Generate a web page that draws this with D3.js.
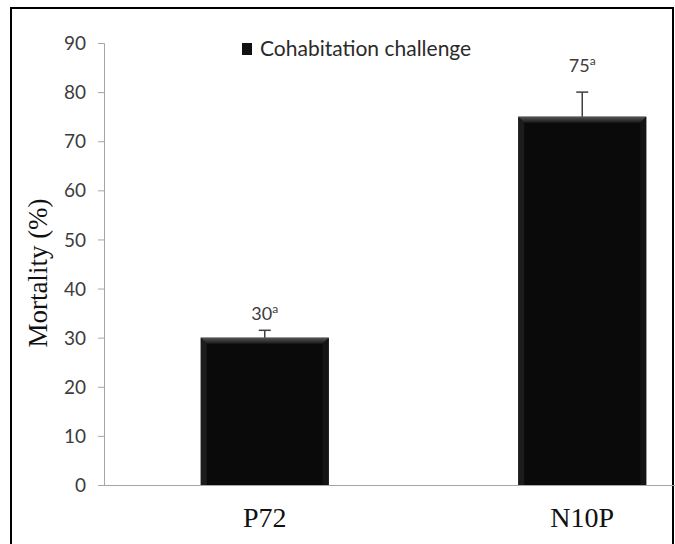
<!DOCTYPE html>
<html><head><meta charset="utf-8">
<script src="https://cdn.jsdelivr.net/npm/d3@7/dist/d3.min.js"></script>
<style>body{margin:0;background:#fff}svg{display:block}</style>
</head><body>
<script>
const categories = ["P72", "N10P"];
const values = [30, 75];
const errors = [1.5, 5];
const labels = ["30", "75"];
const superscripts = ["a", "a"];
const yTicks = [0, 10, 20, 30, 40, 50, 60, 70, 80, 90];
const seriesName = "Cohabitation challenge";

const W = 675, H = 544;
const svg = d3.select("body").append("svg").attr("width", W).attr("height", H);
svg.append("rect").attr("width", W).attr("height", H).attr("fill", "#fff");

// frame
svg.append("path").attr("d", `M11,${H+5} L11,8 L673,8 L673,${H+5}`)
  .attr("fill", "none").attr("stroke", "#000").attr("stroke-width", 2);

const AX = 104;
const y = d3.scaleLinear().domain([0, 90]).range([485, 43]);
const x = d3.scaleBand().domain(categories).range([106, 741]).paddingInner(0.597).paddingOuter(0.2985);

const defs = svg.append("defs");
const g1 = defs.append("linearGradient").attr("id", "bev").attr("x1", 0).attr("y1", 0).attr("x2", 0).attr("y2", 1);
g1.append("stop").attr("offset", 0).attr("stop-color", "#555");
g1.append("stop").attr("offset", 1).attr("stop-color", "#1a1a1a");

const sans = "Lato, 'Open Sans', sans-serif";
const serif = "'Liberation Serif', 'Times New Roman', serif";

// axes
const yAxis = d3.axisLeft(y).tickValues(yTicks).tickSize(6).tickPadding(12);
const ga = svg.append("g").attr("transform", `translate(${AX},0)`).call(yAxis);
ga.select(".domain").attr("stroke", "#a6a6a6").attr("d", "M-6,43.5H0.5V485.5");
ga.selectAll(".tick line").attr("stroke", "#a6a6a6");
ga.selectAll(".tick text").attr("fill", "#3c3c3c").attr("font-family", sans)
  .attr("font-size", 19).attr("dy", "0.35em");

svg.append("line").attr("x1", AX - 6).attr("x2", 675).attr("y1", y(0) + 0.5).attr("y2", y(0) + 0.5)
  .attr("stroke", "#a6a6a6");

// bars
const bars = svg.append("g");
categories.forEach((c, i) => {
  const x0 = x(c), bw = x.bandwidth(), yt = y(values[i]);
  bars.append("rect").attr("x", x0).attr("y", yt).attr("width", bw).attr("height", y(0) - yt)
    .attr("fill", "#0a0a0a");
  bars.append("path").attr("d", `M${x0},${yt} L${x0 + bw},${yt} L${x0 + bw - 6},${yt + 6} L${x0 + 6},${yt + 6} Z`)
    .attr("fill", "url(#bev)");
  bars.append("path").attr("d", `M${x0},${yt} L${x0 + 6},${yt + 6} L${x0 + 6},${y(0)} L${x0},${y(0)} Z`)
    .attr("fill", "#1c1c1c");
  bars.append("path").attr("d", `M${x0 + bw},${yt} L${x0 + bw - 6},${yt + 6} L${x0 + bw - 6},${y(0)} L${x0 + bw},${y(0)} Z`)
    .attr("fill", "#141414");
  // error bar
  const cx = x0 + bw / 2;
  const ye = y(values[i] + errors[i]);
  bars.append("line").attr("x1", cx).attr("x2", cx).attr("y1", yt).attr("y2", ye)
    .attr("stroke", "#404040").attr("stroke-width", 1.5);
  bars.append("line").attr("x1", cx - 6).attr("x2", cx + 6).attr("y1", ye).attr("y2", ye)
    .attr("stroke", "#404040").attr("stroke-width", 1.5);
  // value label
  const t = svg.append("text").attr("x", cx).attr("y", y(values[i] * 1.12))
    .attr("text-anchor", "middle").attr("fill", "#3c3c3c")
    .attr("font-family", sans).attr("font-size", 18);
  t.append("tspan").text(labels[i]);
  t.append("tspan").attr("dy", -7).attr("font-size", 12).text(superscripts[i]);
  // category label
  svg.append("text").attr("x", cx).attr("y", 527).attr("text-anchor", "middle")
    .attr("font-family", serif).attr("font-size", 28)
    .attr("fill", "#111").text(c);
});

// legend
svg.append("rect").attr("x", 242).attr("y", 43).attr("width", 10).attr("height", 12).attr("fill", "#111");
svg.append("text").attr("x", 260).attr("y", 56).attr("font-family", sans)
  .attr("font-size", 21).attr("fill", "#2a2a2a").text(seriesName);

// y title
svg.append("text").attr("transform", "translate(47,273) rotate(-90)").attr("text-anchor", "middle")
  .attr("font-family", serif).attr("font-size", 27)
  .attr("fill", "#111").text("Mortality (%)");
</script>
</body></html>
